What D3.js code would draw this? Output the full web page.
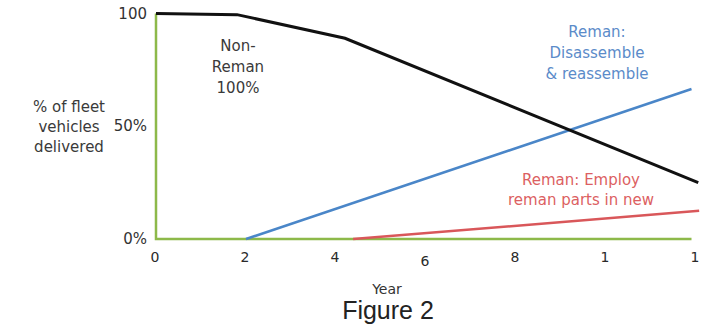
<!DOCTYPE html>
<html><head><meta charset="utf-8">
<script src="https://cdn.jsdelivr.net/npm/d3@7"></script>
<style>body{margin:0;background:#fff}svg{display:block}</style>
</head><body>
<svg id="c" width="719" height="329"></svg>
<script>
const xTickYears = [0, 2, 4, 6, 8, 10, 12];
const xTickLabels = ["0", "2", "4", "6", "8", "1", "1"];
const yTickValues = [0, 50, 100];
const yTickLabels = ["0%", "50%", "100"];
const nonRemanYears = [0, 1.8, 4.2, 12.05];
const nonRemanValues = [100, 99.5, 89, 25];
const disassembleYears = [2, 11.9];
const disassembleValues = [0, 66.5];
const employYears = [4.38, 12.07];
const employValues = [0, 12.5];
const axisEndYear = 11.9;

const svg = d3.select("#c");
const x = d3.scaleLinear().domain([0, 12]).range([156, 696]);
const y = d3.scaleLinear().domain([0, 100]).range([239, 13.5]);
const line = d3.line().x(d => x(d[0])).y(d => y(d[1]));
const zip = (a, b) => a.map((v, i) => [v, b[i]]);

svg.append("path").attr("d", line([[0, 100], [0, 0], [axisEndYear, 0]]))
  .attr("fill", "none").attr("stroke", "#8db94a").attr("stroke-width", 2.5);

const font = "DejaVu Sans, Verdana, sans-serif";
svg.append("g").selectAll("text").data(xTickYears).join("text")
  .attr("x", d => x(d) - 1).attr("y", (d, i) => i === 3 ? 266 : 262)
  .attr("text-anchor", "middle").attr("font-family", font).attr("font-size", 14)
  .attr("fill", "#2a2a2a").text((d, i) => xTickLabels[i]);
svg.append("g").selectAll("text").data(yTickValues).join("text")
  .attr("x", 147).attr("y", d => y(d) + 5)
  .attr("text-anchor", "end").attr("font-family", font).attr("font-size", 15)
  .attr("fill", "#333").text((d, i) => yTickLabels[i]);

svg.append("path").attr("d", line(zip(employYears, employValues)))
  .attr("fill", "none").attr("stroke", "#d9575a").attr("stroke-width", 2.5);
svg.append("path").attr("d", line(zip(disassembleYears, disassembleValues)))
  .attr("fill", "none").attr("stroke", "#4a86c8").attr("stroke-width", 2.5);
svg.append("path").attr("d", line(zip(nonRemanYears, nonRemanValues)))
  .attr("fill", "none").attr("stroke", "#111").attr("stroke-width", 3);

function multi(lines, cx, y0, dy, color, size) {
  const t = svg.append("text").attr("font-family", font).attr("font-size", size)
    .attr("fill", color).attr("text-anchor", "middle");
  lines.forEach((l, i) => t.append("tspan").attr("x", cx).attr("y", y0 + i * dy).text(l));
}
multi(["Non-", "Reman", "100%"], 238, 51, 21, "#3a3a3a", 15);
multi(["Reman:", "Disassemble", "& reassemble"], 597, 37, 21, "#5b8bc9", 15);
multi(["Reman: Employ", "reman parts in new"], 581, 185, 20, "#dc5f62", 15);
multi(["% of fleet", "vehicles", "delivered"], 69, 112, 20, "#3a3a3a", 15);

svg.append("text").attr("x", 387).attr("y", 294).attr("text-anchor", "middle")
  .attr("font-family", font).attr("font-size", 14).attr("fill", "#333").text("Year");
svg.append("text").attr("x", 388).attr("y", 319).attr("text-anchor", "middle")
  .attr("font-family", "Liberation Sans, Arial, sans-serif").attr("font-size", 25).attr("fill", "#222").text("Figure 2");
</script>
</body></html>
